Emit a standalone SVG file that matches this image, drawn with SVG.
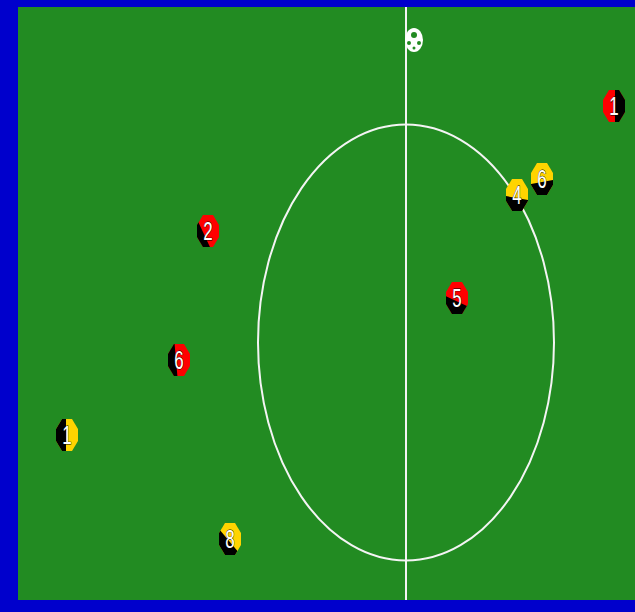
<svg xmlns="http://www.w3.org/2000/svg" width="635" height="612" viewBox="0 0 635 612">
<style>
.line{fill:none;stroke:#f4f4f4;stroke-width:2}
.num{fill:#fff;font-family:"Liberation Sans",Arial,sans-serif;font-size:26px;text-anchor:middle;stroke:#000;stroke-width:0.8;paint-order:stroke}
.red{fill:#ff0000}
.yel{fill:#ffd400}
.blk{fill:#000}
</style>
<defs>
<polygon id="oct" points="-5,-16 5,-16 11,-6 11,6 5,16 -5,16 -11,6 -11,-6"/>
<clipPath id="octClip"><polygon points="-5,-16 5,-16 11,-6 11,6 5,16 -5,16 -11,6 -11,-6"/></clipPath>
</defs>
<rect width="635" height="612" fill="#0000cc"/>
<rect id="field" x="18" y="7" width="617" height="593" fill="#228b22"/>
<g id="lines">
<line class="line" x1="406" y1="7" x2="406" y2="600"/>
<ellipse class="line" cx="406" cy="342.5" rx="148" ry="218"/>
</g>
<g id="ball" transform="translate(414,40)">
<ellipse rx="9" ry="12" fill="#fff"/>
<ellipse cx="0" cy="-5" rx="3" ry="3" fill="#228b22"/>
<circle cx="-5" cy="3" r="2" fill="#228b22"/>
<circle cx="5" cy="3" r="2" fill="#228b22"/>
<circle cx="0" cy="8" r="1.5" fill="#228b22"/>
</g>
<g id="red1" transform="translate(614,106)">
<use href="#oct" class="red"/>
<g clip-path="url(#octClip)"><rect class="blk" x="1" y="-20" width="20" height="40"/></g>
<text class="num" transform="scale(0.65,1)" y="9">1</text>
</g>
<g id="red2" transform="translate(208,231)">
<use href="#oct" class="red"/>
<g clip-path="url(#octClip)"><rect class="blk" x="5" y="-20" width="20" height="40" transform="rotate(155)"/></g>
<text class="num" transform="scale(0.65,1)" y="9">2</text>
</g>
<g id="red5" transform="translate(457,298)">
<use href="#oct" class="red"/>
<g clip-path="url(#octClip)"><rect class="blk" x="3" y="-20" width="20" height="40" transform="rotate(115)"/></g>
<text class="num" transform="scale(0.65,1)" y="9">5</text>
</g>
<g id="red6" transform="translate(179,360)">
<use href="#oct" class="red"/>
<g clip-path="url(#octClip)"><rect class="blk" x="3" y="-20" width="20" height="40" transform="rotate(175)"/></g>
<text class="num" transform="scale(0.65,1)" y="9">6</text>
</g>
<g id="yel1" transform="translate(67,435)">
<use href="#oct" class="yel"/>
<g clip-path="url(#octClip)"><rect class="blk" x="1" y="-20" width="20" height="40" transform="rotate(180)"/></g>
<text class="num" transform="scale(0.65,1)" y="9">1</text>
</g>
<g id="yel4" transform="translate(517,195)">
<use href="#oct" class="yel"/>
<g clip-path="url(#octClip)"><rect class="blk" x="3" y="-20" width="20" height="40" transform="rotate(100)"/></g>
<text class="num" transform="scale(0.65,1)" y="9">4</text>
</g>
<g id="yel6" transform="translate(542,179)">
<use href="#oct" class="yel"/>
<g clip-path="url(#octClip)"><rect class="blk" x="3" y="-20" width="20" height="40" transform="rotate(80)"/></g>
<text class="num" transform="scale(0.65,1)" y="9">6</text>
</g>
<g id="yel8" transform="translate(230,539)">
<use href="#oct" class="yel"/>
<g clip-path="url(#octClip)"><rect class="blk" x="2" y="-20" width="20" height="40" transform="rotate(140)"/></g>
<text class="num" transform="scale(0.65,1)" y="9">8</text>
</g>
</svg>
